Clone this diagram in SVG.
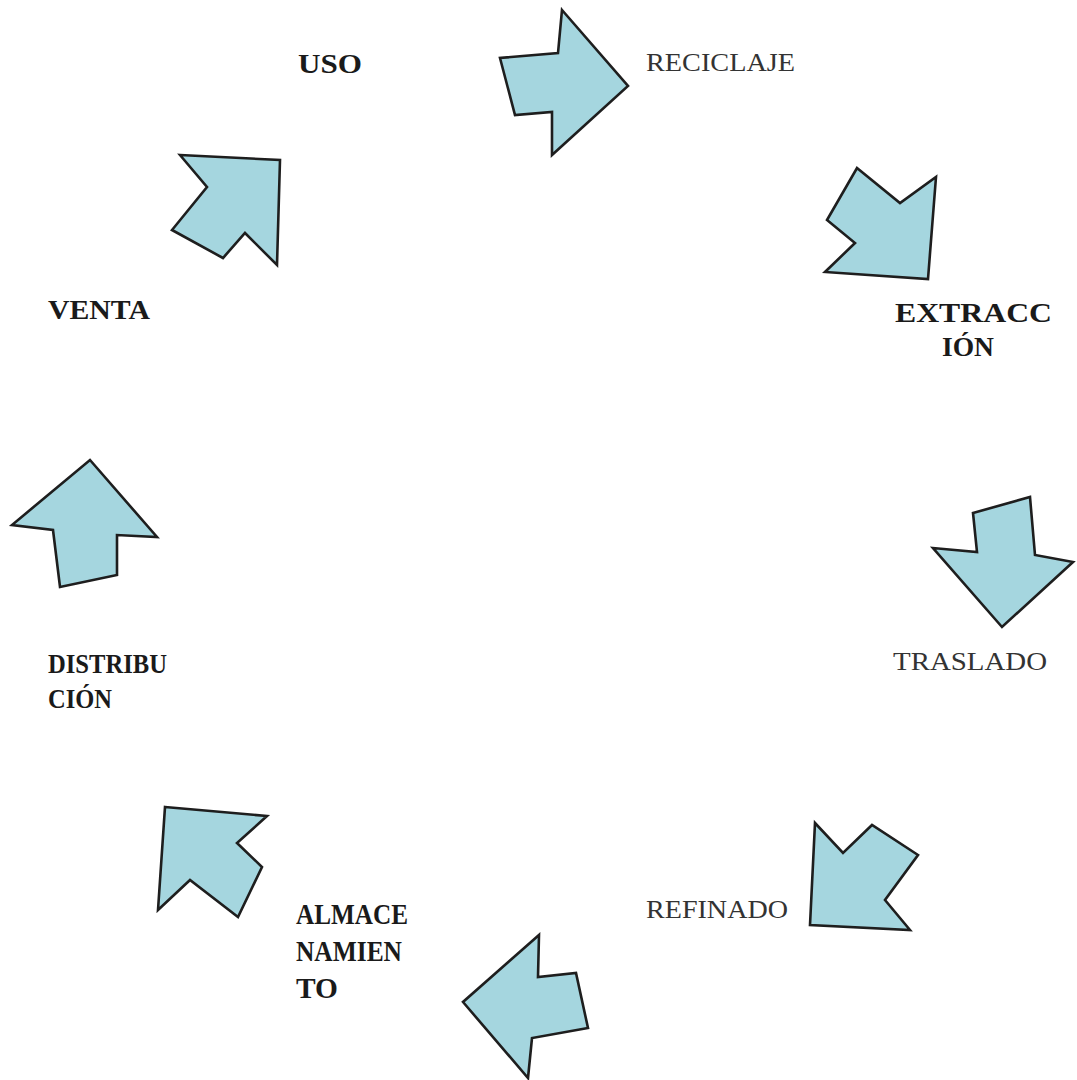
<svg xmlns="http://www.w3.org/2000/svg" width="1077" height="1080" viewBox="0 0 1077 1080">
<style>
.arr{fill:#a5d6df;stroke:#1e1e1e;stroke-width:2.6;stroke-linejoin:miter}
.b{font-family:"Liberation Serif","Times New Roman",serif;font-weight:bold;font-size:27px;fill:#1a1a1a}
.r{font-family:"Liberation Serif","Times New Roman",serif;font-weight:normal;font-size:25px;fill:#333}
.big{font-size:29px}
</style>
<rect width="1077" height="1080" fill="#ffffff"/>
<g id="connectors">
<polygon id="a1" class="arr" points="562,10 628,86 552,155 552,112 515,115 500,58 558,53"/>
<polygon id="a2" class="arr" points="857,168 900,203 936,177 928,279 825,272 855,243 827,220"/>
<polygon id="a3" class="arr" points="973,513 1030,497 1035,555 1073,562 1002,627 933,548 977,552"/>
<polygon id="a4" class="arr" points="815,823 843,853 872,825 918,855 885,900 910,930 810,925"/>
<polygon id="a5" class="arr" points="539,935 538,977 576,973 588,1028 532,1038 528,1078 463,1002"/>
<polygon id="a6" class="arr" points="165,807 267,816 237,843 262,867 238,917 190,880 158,910"/>
<polygon id="a7" class="arr" points="90,460 157,537 117,535 117,575 60,587 53,530 12,525"/>
<polygon id="a8" class="arr" points="180,155 280,160 277,265 245,233 223,258 172,230 207,187"/>
</g>
<g id="uso"><text class="b" x="298" y="73" textLength="64" lengthAdjust="spacingAndGlyphs">USO</text></g>
<g id="reciclaje"><text class="r" x="646" y="71" textLength="149" lengthAdjust="spacingAndGlyphs">RECICLAJE</text></g>
<g id="extraccion"><text class="b" x="895" y="322" textLength="157" lengthAdjust="spacingAndGlyphs">EXTRACC</text><text class="b" x="942" y="356" textLength="52" lengthAdjust="spacingAndGlyphs">IÓN</text></g>
<g id="traslado"><text class="r" x="893" y="670" textLength="154" lengthAdjust="spacingAndGlyphs">TRASLADO</text></g>
<g id="refinado"><text class="r" x="646" y="918" textLength="142" lengthAdjust="spacingAndGlyphs">REFINADO</text></g>
<g id="almacenamiento"><text class="b big" x="296" y="924" textLength="112" lengthAdjust="spacingAndGlyphs">ALMACE</text><text class="b big" x="296" y="961" textLength="106" lengthAdjust="spacingAndGlyphs">NAMIEN</text><text class="b big" x="296" y="998" textLength="42" lengthAdjust="spacingAndGlyphs">TO</text></g>
<g id="distribucion"><text class="b" x="48" y="673" textLength="119" lengthAdjust="spacingAndGlyphs">DISTRIBU</text><text class="b" x="48" y="708" textLength="64" lengthAdjust="spacingAndGlyphs">CIÓN</text></g>
<g id="venta"><text class="b" x="48" y="319" textLength="102" lengthAdjust="spacingAndGlyphs">VENTA</text></g>
</svg>
